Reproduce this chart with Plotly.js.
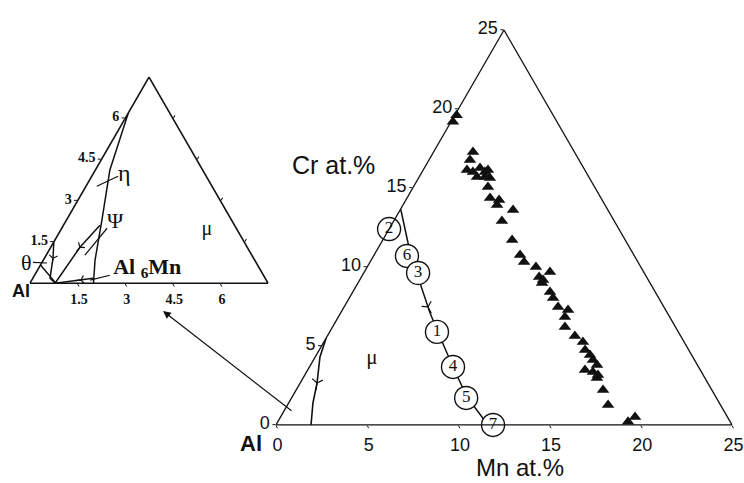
<!DOCTYPE html>
<html>
<head>
<meta charset="utf-8">
<script src="https://cdn.plot.ly/plotly-3.0.1.min.js"></script>
<style>
  html, body { margin: 0; padding: 0; background: #fff; }
  #chart { width: 744px; height: 483px; }
</style>
</head>
<body>
<div id="chart"></div>
<script>
// --- main diagram: Al corner, 0-25 at.% Mn / Cr ---
const mainTicks = [0, 5, 10, 15, 20, 25];

// measured alloy compositions (filled triangles)
const alloyMn = [0.1, 0.1, 2.16, 2.25, 2.40, 2.79, 3.05, 3.17, 3.45, 3.55, 3.91, 3.61, 4.09, 4.55, 5.11, 5.16,
  6.19, 5.93, 7.09, 8.00, 8.44, 9.25, 10.18, 9.74, 10.05, 10.09, 10.81, 11.17, 11.73, 12.37, 12.42, 12.74,
  13.57, 14.20, 14.57, 15.00, 15.32, 15.70, 15.20, 15.70, 16.07, 16.11, 16.82, 17.57, 19.43, 19.2];
const alloyCr = [19.6, 19.2, 17.28, 16.77, 16.14, 16.01, 16.27, 15.70, 16.01, 16.14, 15.63, 15.70, 15.06, 14.37, 14.24, 13.92,
  13.61, 12.91, 11.71, 10.76, 10.32, 10.00, 9.68, 9.37, 9.18, 8.99, 8.42, 8.04, 7.47, 7.28, 6.84, 6.20,
  5.63, 5.25, 4.75, 4.43, 4.11, 3.80, 3.48, 3.35, 3.16, 2.97, 2.22, 1.27, 0.51, 0.2];

// solidification path through samples
const pathMn = [0, 1.48, 3.40, 4.90, 6.21, 7.87, 9.59, 11.62];
const pathCr = [13.67, 11.52, 8.99, 7.09, 5.57, 3.67, 1.77, 0];
const edgeMn = [0, 0.26, 0.92, 1.33, 1.92];
const edgeCr = [5.5, 4.30, 2.66, 1.39, 0];

const sampleLabels = ['6', '2', '3', '1', '4', '5', '7'];
const sampleMn = [1.83, 0, 2.98, 5.88, 7.87, 9.57, 11.9];
const sampleCr = [10.7, 12.4, 9.62, 5.89, 3.67, 1.71, 0];

const mainArrowMn = [4.6, 0.92];
const mainArrowCr = [7.47, 2.66];
const mainArrowAngle = [-28, 8];

// --- inset: 0-7.5 at.% ---
const insetTicks = [1.5, 3, 4.5, 6];
const etaMn = [0, 0.46, 1.12, 1.63, 2.0];
const etaCr = [6.2, 4.11, 2.29, 0.84, 0];
const psiMn = [1.15, 0.92, 0.79];
const psiCr = [2.11, 1.31, 0];
const thetaMn = [0, 0.27, 0.54, 0.8];
const thetaCr = [1.5, 0.91, 0.18, 0];
const theta2Mn = [0, 0.77];
const theta2Cr = [0.66, 0.04];
const al6MnMn = [0.79, 1.9];
const al6MnCr = [0, 0.18];
const insetArrowMn = [0.27, 0.92, 1.55];
const insetArrowCr = [0.91, 1.31, 0.12];
const insetArrowAngle = [8, 39, 83];
const leaders = [
  { mn: [0.34, 0.83], cr: [3.53, 3.89] },
  { mn: [1.22, 1.43], cr: [1.02, 2.0] },
  { mn: [1.84, 2.37], cr: [0.11, 0.29] }
];
const insetLabels = ['η', 'Ψ', 'Al <sub>6</sub>Mn', 'μ'];
const insetLabelMn = [1.0, 1.57, 3.42, 4.61];
const insetLabelCr = [3.95, 2.22, 0.55, 1.93];

const ink = '#111';
const sans = 'Liberation Sans, Arial, sans-serif';
const serif = 'Liberation Serif, Times New Roman, serif';

function line(sub, mn, cr, width) {
  return { type: 'scatterternary', subplot: sub, mode: 'lines', a: cr, c: mn,
    line: { color: ink, width: width || 1.3 }, cliponaxis: false, hoverinfo: 'skip' };
}
function arrows(sub, mn, cr, ang, size) {
  return { type: 'scatterternary', subplot: sub, mode: 'markers', a: cr, c: mn,
    marker: { symbol: 'y-down-open', size: size, angle: ang, color: ink, line: { width: 1.2, color: ink } },
    hoverinfo: 'skip' };
}

const traces = [
  line('ternary', pathMn, pathCr, 1.5),
  line('ternary', edgeMn, edgeCr, 1.6),
  arrows('ternary', mainArrowMn, mainArrowCr, mainArrowAngle, 9),
  {
    type: 'scatterternary', subplot: 'ternary', mode: 'markers', a: alloyCr, c: alloyMn,
    marker: { symbol: 'triangle-up', size: 11, color: ink }, cliponaxis: false, hoverinfo: 'skip'
  },
  {
    type: 'scatterternary', subplot: 'ternary', mode: 'text', a: [4.2], c: [3.15], text: ['μ'],
    textfont: { family: serif, size: 21, color: ink }, hoverinfo: 'skip'
  }
];

// each numbered circle its own trace so later circles cover earlier ones
sampleLabels.forEach((lab, i) => {
  traces.push({
    type: 'scatterternary', subplot: 'ternary', mode: 'markers+text',
    a: [sampleCr[i]], c: [sampleMn[i]], text: [lab], textposition: 'middle center',
    textfont: { family: serif, size: 17, color: ink },
    marker: { symbol: 'circle', size: 23, color: 'white', line: { color: ink, width: 1.4 } },
    cliponaxis: false, hoverinfo: 'skip'
  });
});

traces.push(
  line('ternary2', etaMn, etaCr, 1.5),
  line('ternary2', psiMn, psiCr, 1.5),
  line('ternary2', thetaMn, thetaCr, 1.5),
  line('ternary2', theta2Mn, theta2Cr, 1.5),
  line('ternary2', al6MnMn, al6MnCr, 1.5),
  arrows('ternary2', insetArrowMn, insetArrowCr, insetArrowAngle, 7)
);
leaders.forEach(l => traces.push(line('ternary2', l.mn, l.cr, 1.2)));
traces.push({
  type: 'scatterternary', subplot: 'ternary2', mode: 'text',
  a: insetLabelCr, c: insetLabelMn, text: insetLabels, textposition: 'middle center',
  textfont: { family: serif, size: [24, 22, 22, 20], color: ink, weight: [400, 400, 700, 400] },
  cliponaxis: false, hoverinfo: 'skip'
});

function axis(min, vals, texts, font, opts) {
  return Object.assign({
    min: min, tickmode: 'array', tickvals: vals, ticktext: texts,
    ticks: 'outside', ticklen: 3, tickcolor: ink, tickfont: font,
    showgrid: false, showline: true, linecolor: ink, linewidth: 1.3,
    title: { text: '' }
  }, opts || {});
}

const mainFont = { family: sans, size: 18, color: ink };
const insetFont = { family: serif, size: 14, color: ink, weight: 700 };

function label(px, py, text, font) {
  return { xref: 'paper', yref: 'paper', x: px / 744, y: 1 - py / 483, text: text, showarrow: false,
    xanchor: 'center', yanchor: 'middle', font: font };
}

const layout = {
  width: 744,
  height: 483,
  margin: { l: 0, r: 0, t: 0, b: 0 },
  paper_bgcolor: 'white',
  showlegend: false,
  ternary: {
    domain: { x: [0.37097, 0.98387], y: [0.109, 0.949] },
    sum: 100,
    bgcolor: 'white',
    aaxis: axis(0, mainTicks, mainTicks.map(String), mainFont),
    baxis: axis(75, mainTicks.map(v => 100 - v), mainTicks.map(String), mainFont),
    caxis: axis(0, [], [], mainFont, { showticklabels: false, ticks: '' })
  },
  ternary2: {
    domain: { x: [0.04032, 0.36022], y: [0.397, 0.857] },
    sum: 100,
    bgcolor: 'white',
    aaxis: axis(0, insetTicks, insetTicks.map(String), insetFont, { linewidth: 1.6 }),
    baxis: axis(92.5, insetTicks.map(v => 100 - v), insetTicks.map(String), insetFont, { linewidth: 1.6 }),
    caxis: axis(0, insetTicks, insetTicks.map(String), insetFont, { showticklabels: false, linewidth: 1.6 })
  },
  annotations: [
    label(333, 165, 'Cr at.%', { family: sans, size: 25, color: ink }),
    label(520, 467, 'Mn at.%', { family: sans, size: 24, color: ink }),
    label(251, 443, '<b>Al</b>', { family: sans, size: 22, color: ink }),
    label(21, 291, '<b>Al</b>', { family: sans, size: 18, color: ink }),
    { xref: 'paper', yref: 'paper', x: 47 / 744, y: 1 - 263 / 483, text: 'θ', showarrow: true,
      ax: -21, ay: -1, arrowhead: 0, arrowwidth: 1.2, arrowcolor: ink,
      font: { family: serif, size: 22, color: ink } },
    { xref: 'paper', yref: 'paper', x: 163 / 744, y: 1 - 311 / 483, text: '', showarrow: true,
      ax: 130, ay: 101, arrowhead: 2, arrowsize: 1.3, arrowwidth: 1.2, arrowcolor: ink }
  ]
};

Plotly.newPlot('chart', traces, layout, { staticPlot: true });
</script>
</body>
</html>
